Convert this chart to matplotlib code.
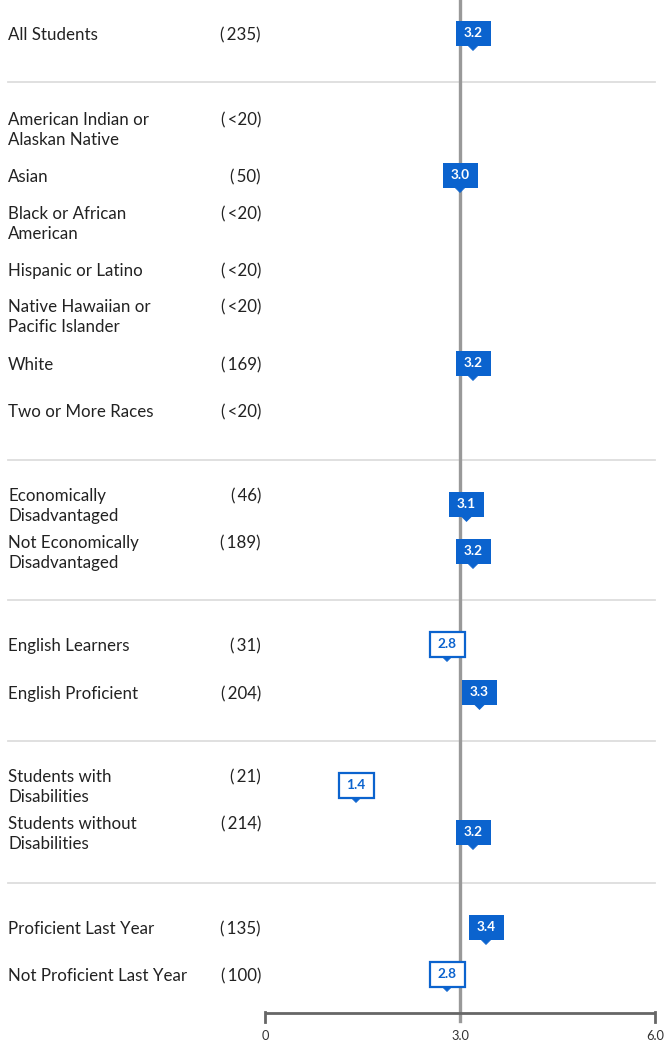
import matplotlib
matplotlib.use("Agg")
import matplotlib.pyplot as plt
from matplotlib.patches import Polygon

plt.rcParams['font.family'] = ['Lato', 'DejaVu Sans']

groups = ["All Students",
          "American Indian or\nAlaskan Native", "Asian", "Black or African\nAmerican",
          "Hispanic or Latino", "Native Hawaiian or\nPacific Islander", "White",
          "Two or More Races",
          "Economically\nDisadvantaged", "Not Economically\nDisadvantaged",
          "English Learners", "English Proficient",
          "Students with\nDisabilities", "Students without\nDisabilities",
          "Proficient Last Year", "Not Proficient Last Year"]
counts = ["(235)", "(<20)", "(50)", "(<20)", "(<20)", "(<20)", "(169)", "(<20)",
          "(46)", "(189)", "(31)", "(204)", "(21)", "(214)", "(135)", "(100)"]
scores = [3.2, None, 3.0, None, None, None, 3.2, None,
          3.1, 3.2, 2.8, 3.3, 1.4, 3.2, 3.4, 2.8]
outlined = [False, False, False, False, False, False, False, False,
            False, False, True, False, True, False, False, True]
# row centres in pixels (layout)
row_y = [33, 128, 175, 222, 269, 315, 363, 410, 504, 551, 644, 692, 785, 832, 927, 974]
sep_y = [82, 460, 600, 741, 883]
ticks = [0, 3.0, 6.0]
tick_labels = ["0", "3.0", "6.0"]

W, H = 665, 1042
x0, x1 = 265, 655          # pixel positions of 0 and 6.0
scale = (x1 - x0) / 6.0

def px(p):
    return (p - x0) / scale

blue = "#0b63ce"
fig = plt.figure(figsize=(W / 100, H / 100), dpi=100)
ax = fig.add_axes([0, 0, 1, 1])
ax.set_xlim(px(0), px(W))
ax.set_ylim(H, 0)
ax.axis("off")

# separators
for y in sep_y:
    ax.plot([px(8), px(655)], [y, y], color="#dddddd", lw=1.3, zorder=1)

# reference line at 3.0
ax.plot([3.0, 3.0], [0, 1021], color="#999999", lw=2.4, zorder=2)

# axis
ax.plot([0, 6.0], [1013, 1013], color="#666666", lw=2, zorder=3, solid_capstyle="butt")
for t, lab in zip(ticks, tick_labels):
    if t != 3.0:
        ax.plot([t, t], [1012, 1022], color="#666666", lw=2, zorder=3)
    ax.text(t, 1036, lab, ha="center", va="center", fontsize=9.3, color="#333333")

# labels and counts
for name, n, y in zip(groups, counts, row_y):
    ax.text(px(8), y + 2, name, ha="left", va="center", fontsize=12.2,
            color="#222222", linespacing=1.36)
    nl = name.count("\n")
    ty = y - 10 if nl else y
    ax.text(px(261), ty + 2, n.replace("(", "(\u2009"), ha="right", va="center",
            fontsize=12.2, color="#222222")

# callout markers
bw = 35 / scale
bh = 25
tw = 10 / scale
th = 5
for s, o, y in zip(scores, outlined, row_y):
    if s is None:
        continue
    top, bot = y - bh / 2, y + bh / 2
    box = Polygon([(s - bw / 2, top), (s + bw / 2, top), (s + bw / 2, bot),
                   (s - bw / 2, bot)], closed=True,
                  facecolor="white" if o else blue, edgecolor=blue,
                  lw=1.6 if o else 0, zorder=5)
    ax.add_patch(box)
    tip = Polygon([(s - tw / 2, bot), (s + tw / 2, bot), (s, bot + th)],
                  closed=True, facecolor=blue, edgecolor=blue, lw=0.5, zorder=5)
    ax.add_patch(tip)
    ax.text(s, y, f"{s:.1f}", ha="center", va="center", fontsize=9.8,
            fontweight="bold", color=blue if o else "white", zorder=6)

fig.savefig("out.png", dpi=100)
